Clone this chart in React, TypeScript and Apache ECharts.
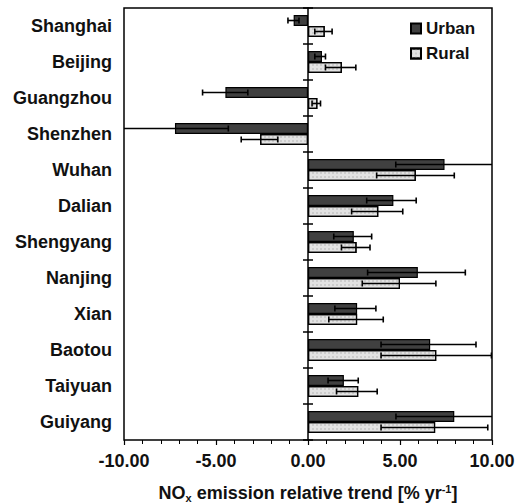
import React, { useEffect, useRef } from "react";
import * as echarts from "echarts";

const cities = ["Shanghai", "Beijing", "Guangzhou", "Shenzhen", "Wuhan", "Dalian", "Shengyang", "Nanjing", "Xian", "Baotou", "Taiyuan", "Guiyang"];
const urban = [-0.78, 0.76, -4.49, -7.23, 7.42, 4.64, 2.49, 5.97, 2.67, 6.64, 1.95, 7.95];
const urbanLow = [-1.09, 0.37, -5.73, -10.13, 4.77, 3.19, 1.4, 3.24, 1.46, 3.97, 1.09, 4.78];
const urbanHigh = [-0.49, 0.95, -3.27, -4.33, 10.07, 5.88, 3.46, 8.55, 3.69, 9.13, 2.73, 11.12];
const rural = [0.91, 1.84, 0.51, -2.6, 5.86, 3.82, 2.64, 5.0, 2.67, 6.97, 2.73, 6.91];
const ruralLow = [0.37, 0.95, 0.22, -3.63, 3.73, 2.37, 1.82, 2.95, 1.13, 3.97, 1.55, 3.97];
const ruralHigh = [1.31, 2.6, 0.68, -1.64, 7.95, 5.15, 3.37, 6.95, 4.09, 9.97, 3.76, 9.77];
const xTicks = { min: -10, max: 10, interval: 5 };

const FONT = "'Liberation Sans', Arial, sans-serif";
const CAT_GAP = 0.39;

export default function App() {
  const ref = useRef<HTMLDivElement>(null);
  useEffect(() => {
    if (!ref.current) return;
    const chart = echarts.init(ref.current, null, { renderer: "svg" });

    const errSeries = (name: string, low: number[], high: number[], sign: number) => ({
      type: "custom",
      name: name + "-err",
      clip: true,
      silent: true,
      z: 5,
      data: cities.map((_, i) => [low[i], high[i], i]),
      encode: { x: [0, 1], y: 2 },
      renderItem: (params: any, api: any) => {
        const lo = api.value(0);
        const hi = api.value(1);
        const idx = api.value(2);
        const p0 = api.coord([lo, idx]);
        const p1 = api.coord([hi, idx]);
        const band = api.size([0, 1])[1];
        const bw = (band * (1 - CAT_GAP)) / 2;
        const y = p0[1] + (sign * bw) / 2;
        const cap = 3;
        const st = { stroke: "#000", lineWidth: 1.6 };
        return {
          type: "group",
          children: [
            { type: "line", shape: { x1: p0[0], y1: y, x2: p1[0], y2: y }, style: st },
            { type: "line", shape: { x1: p0[0], y1: y - cap, x2: p0[0], y2: y + cap }, style: st },
            { type: "line", shape: { x1: p1[0], y1: y - cap, x2: p1[0], y2: y + cap }, style: st },
          ],
        };
      },
    });

    chart.setOption({
      animation: false,
      textStyle: { fontFamily: FONT },
      grid: {
        left: 124, right: 25, top: 8, bottom: 63,
        outerBoundsMode: "none",
        containLabel: false,
        show: true, borderColor: "#000", borderWidth: 1.5, backgroundColor: "transparent",
      },
      legend: {
        orient: "vertical",
        left: 410,
        top: 20,
        padding: 0,
        itemWidth: 10,
        itemHeight: 10,
        itemGap: 8,
        itemTextGap: 5,
        icon: "rect",
        data: ["Urban", "Rural"],
        textStyle: { fontFamily: FONT, fontWeight: "bold", fontSize: 17, color: "#111" },
      },
      xAxis: {
        type: "value",
        min: xTicks.min,
        max: xTicks.max,
        interval: xTicks.interval,
        axisLine: { onZero: false, lineStyle: { color: "#000", width: 1.5 } },
        axisTick: { show: true, length: 5, lineStyle: { color: "#000", width: 1.2 } },
        minorTick: { show: true, splitNumber: 5, length: 4, lineStyle: { color: "#000", width: 1 } },
        splitLine: { show: false },
        axisLabel: {
          formatter: (v: number) => v.toFixed(2),
          fontFamily: FONT, fontWeight: "bold", fontSize: 18, color: "#111", margin: 12,
        },
        name: "{m|NO}{sub|x}{m| emission relative trend [% yr}{sup|-1}{m|]}",
        nameLocation: "middle",
        nameGap: 43,
        nameTextStyle: {
          rich: {
            m: { fontFamily: FONT, fontWeight: "bold", fontSize: 18, color: "#111", lineHeight: 20, verticalAlign: "middle" },
            sub: { fontFamily: FONT, fontWeight: "bold", fontSize: 11, color: "#111", lineHeight: 10, verticalAlign: "bottom" },
            sup: { fontFamily: FONT, fontWeight: "bold", fontSize: 11, color: "#111", lineHeight: 10, verticalAlign: "top" },
          },
        },
      },
      yAxis: [
        {
          type: "category",
          data: cities,
          inverse: true,
          position: "left",
          axisLine: { onZero: true, onZeroAxisIndex: 0, lineStyle: { color: "#000", width: 1.5 } },
          axisTick: { show: true, length: 5, lineStyle: { color: "#000", width: 1.5 } },
          axisLabel: { margin: 12, fontFamily: FONT, fontWeight: "bold", fontSize: 18, color: "#111" },
          splitLine: { show: false },
          z: 6,
        },
        {
          type: "category",
          data: cities,
          inverse: true,
          position: "right",
          axisLine: { show: false, onZero: true, onZeroAxisIndex: 0 },
          axisTick: { show: true, length: 5, lineStyle: { color: "#000", width: 1.5 } },
          axisLabel: { show: false },
          splitLine: { show: false },
          z: 6,
        },
      ],
      series: [
        {
          name: "Urban",
          type: "bar",
          data: urban,
          barGap: "0%",
          barCategoryGap: CAT_GAP * 100 + "%",
          itemStyle: { color: "#404040", borderColor: "#000", borderWidth: 1.2 },
        },
        {
          name: "Rural",
          type: "bar",
          data: rural,
          barGap: "0%",
          barCategoryGap: CAT_GAP * 100 + "%",
          itemStyle: {
            color: "#e2e2e2",
            borderColor: "#000",
            borderWidth: 1.2,
            decal: {
              symbol: "rect",
              symbolSize: 1,
              dashArrayX: [2, 2],
              dashArrayY: [2, 2],
              rotation: 0,
              color: "rgba(190,190,190,0.6)",
            },
          },
        },
        errSeries("Urban", urbanLow, urbanHigh, -1),
        errSeries("Rural", ruralLow, ruralHigh, 1),
      ],
    });
    return () => chart.dispose();
  }, []);
  return <div ref={ref} style={{ width: 517, height: 503, position: "absolute", left: 0, top: 0 }} />;
}
